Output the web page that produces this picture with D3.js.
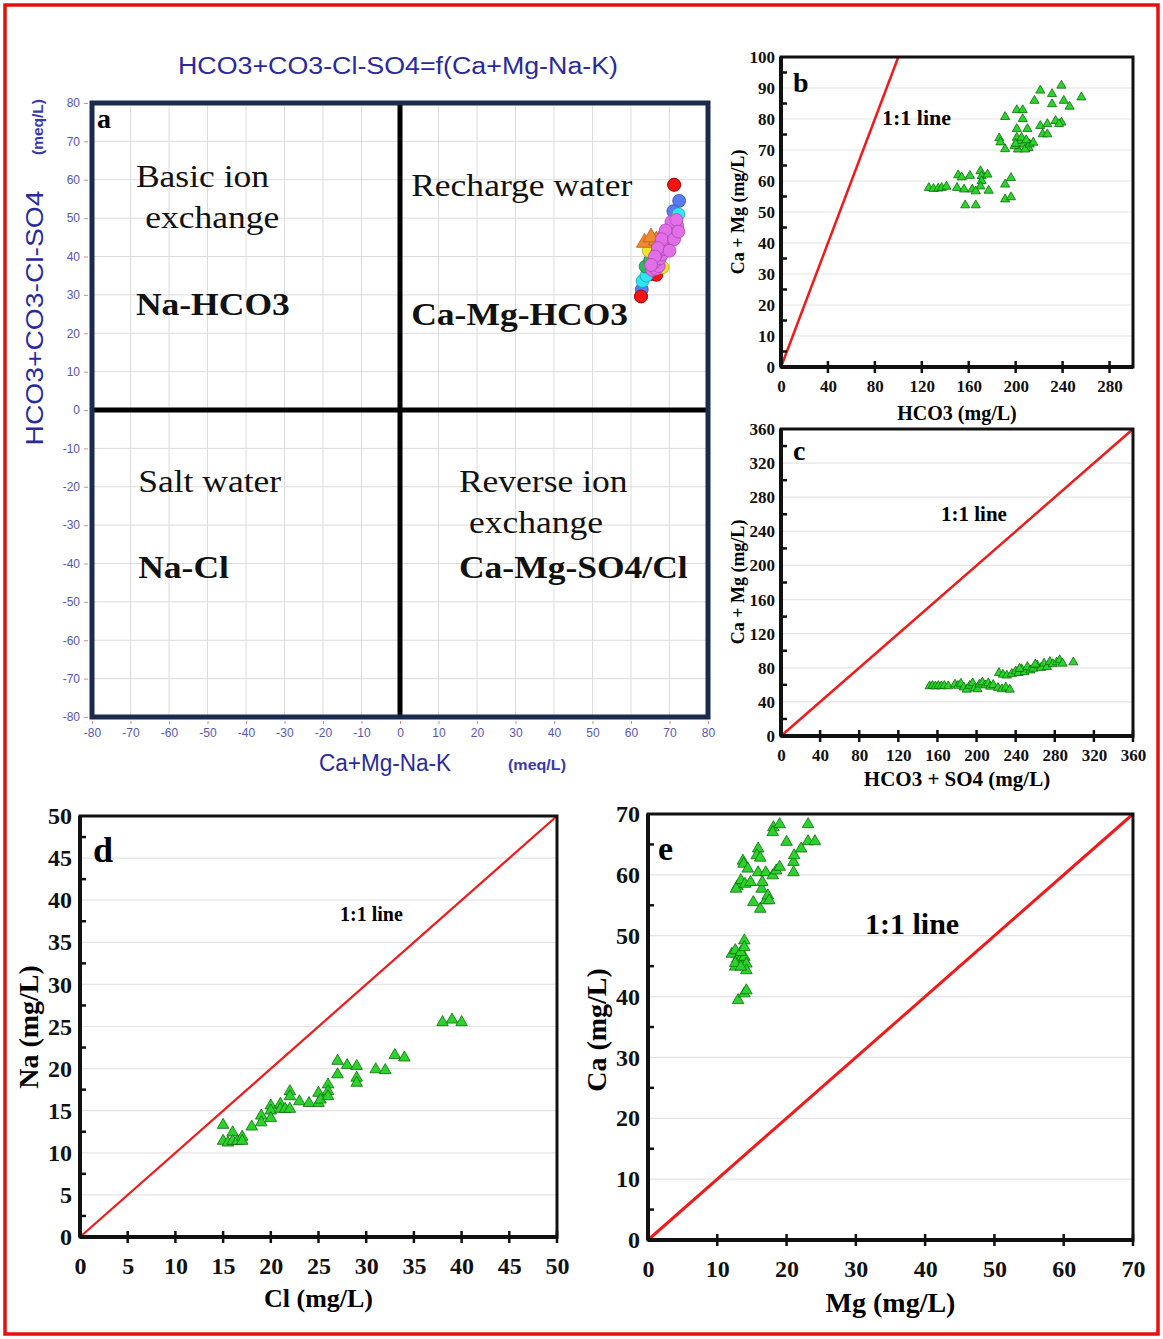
<!DOCTYPE html>
<html>
<head>
<meta charset="utf-8">
<script src="https://cdn.jsdelivr.net/npm/d3@7"></script>
<style>
body { margin: 0; background: #fff; }
</style>
</head>
<body>
<svg id="fig" width="1163" height="1339"></svg>
<script>
// ---- panel a : ion exchange diagram (meq/L) ----
var aTicks = [-80, -70, -60, -50, -40, -30, -20, -10, 0, 10, 20, 30, 40, 50, 60, 70, 80];
var aRed = [[71.2, 58.7], [62.6, 29.6], [65.2, 35.4], [66.6, 35.2]];
var aBlue = [[72.5, 54.5], [71.0, 51.8], [62.8, 31.4], [66.0, 38.0]];
var aCyan = [[72.3, 51.0], [63.0, 33.6], [64.0, 35.0]];
var aGreen = [[63.8, 37.4], [65.0, 39.0], [70.0, 46.0], [68.2, 43.0], [71.2, 48.2]];
var aYellow = [[64.6, 41.5], [71.6, 49.5], [68.2, 37.2], [66.0, 44.0]];
var aOrange = [[63.5, 43.6], [66.6, 44.2], [65.2, 45.0]];
var aViolet = [[65.5, 36.5], [66.5, 36.8], [67.2, 37.5], [66.0, 38.5], [67.5, 39.5], [68.0, 40.5],
  [66.8, 41.0], [68.5, 42.0], [69.0, 43.0], [67.8, 43.5], [69.5, 44.2], [70.2, 45.0], [68.5, 45.5],
  [70.5, 46.5], [71.5, 46.0], [69.8, 47.0], [71.0, 47.8], [72.0, 48.0], [70.5, 49.0], [71.8, 49.5],
  [69.0, 46.8], [68.0, 44.5], [67.0, 42.2], [66.2, 40.0], [65.2, 37.8], [71.2, 44.5], [72.3, 46.5], [70.0, 41.5]];

// ---- panel b : Ca+Mg vs HCO3 (mg/L) ----
var bXTicks = [0, 40, 80, 120, 160, 200, 240, 280];
var bYTicks = [0, 10, 20, 30, 40, 50, 60, 70, 80, 90, 100];
var bHco3 = [126, 130, 134, 137, 141, 151, 154, 161, 150, 156, 163, 170, 171, 171, 170, 176, 177, 166,
  157, 166, 196, 191, 191, 196, 191, 201, 206, 206, 186, 187, 191, 201, 210, 201, 204, 207, 211, 202,
  208, 212, 215, 199, 205, 200, 209, 216, 221, 231, 239, 231, 241, 246, 256, 221, 227, 223, 227, 234, 239, 237];
var bCaMg = [57.8, 57.5, 57.6, 57.8, 58.2, 61.9, 61.2, 61.7, 57.8, 57.3, 57.3, 63.2, 61.6, 60.0, 58.3, 62.1, 56.9, 56.7,
  52.2, 52.2, 61.0, 58.9, 54.1, 54.8, 80.7, 82.9, 82.9, 80.0, 73.8, 72.5, 70.3, 76.8, 76.8, 74.0, 72.9, 71.8, 70.7, 70.2,
  70.2, 71.8, 72.4, 71.3, 74.0, 72.0, 73.2, 85.9, 89.2, 88.1, 90.8, 84.8, 85.9, 84.0, 87.0, 77.8, 78.4, 75.1, 75.1, 79.4, 78.9, 78.4];

// ---- panel c : Ca+Mg vs HCO3+SO4 (mg/L) ----
var cTicks = [0, 40, 80, 120, 160, 200, 240, 280, 320, 360];
var cHco3So4 = [152, 155, 158, 161, 164, 167, 171, 178, 181, 184, 187, 190, 193, 196, 198, 201, 203, 206, 209, 212,
  214, 217, 222, 226, 230, 234, 223, 227, 231, 236, 240, 243, 246, 249, 252, 255, 258, 262, 266, 269, 272, 275,
  278, 282, 285, 288, 299, 244, 260];
var cCaMg = [58.5, 58.8, 58.3, 58.8, 58.5, 58.9, 58.5, 60.5, 59.0, 61.5, 57.0, 54.5, 59.0, 62.0, 56.0, 55.0, 60.5, 63.0,
  59.5, 62.0, 58.0, 60.0, 56.5, 55.0, 57.0, 54.5, 74.0, 72.0, 71.0, 73.0, 76.0, 74.0, 78.5, 75.0, 81.0, 77.0, 79.0,
  83.0, 80.0, 85.0, 81.0, 87.0, 84.5, 86.5, 89.0, 85.0, 86.5, 79.0, 84.0];

// ---- panel d : Na vs Cl (mg/L) ----
var dTicks = [0, 5, 10, 15, 20, 25, 30, 35, 40, 45, 50];
var dCl = [15, 15, 15.5, 16, 16, 16.5, 17, 17, 18, 19, 19, 20, 20, 20, 21, 21, 21.5, 22, 22, 22, 23, 24, 25, 25,
  25.2, 26, 26, 26, 27, 27, 28, 29, 29, 29, 31, 32, 33, 34, 38, 39, 40];
var dNa = [13.3, 11.4, 11.2, 12.4, 11.4, 11.4, 11.9, 11.4, 13.1, 14.4, 13.6, 15.6, 15.0, 14.1, 15.8, 15.2, 15.2,
  17.3, 16.7, 15.2, 16.1, 15.9, 15.9, 17.1, 16.3, 18.1, 17.3, 16.7, 20.9, 19.3, 20.4, 20.3, 18.9, 18.3, 19.9,
  19.8, 21.6, 21.3, 25.5, 25.8, 25.5];

// ---- panel e : Ca vs Mg (mg/L) ----
var eTicks = [0, 10, 20, 30, 40, 50, 60, 70];
var eMg = [12.9, 13.4, 12.7, 13.7, 13.8, 14.4, 14.0, 14.8, 15.9, 15.7, 16.2, 15.2, 16.2, 15.9, 17.0, 16.4, 17.0,
  17.3, 16.5, 17.5, 18.0, 18.5, 19.0, 18.1, 19.0, 18.0, 20.0, 21.0, 21.0, 21.1, 22.1, 23.1, 23.1, 24.1,
  12.1, 12.6, 12.9, 13.4, 13.9, 14.2, 14.2, 13.4, 12.6, 13.9, 13.9, 12.6, 13.4, 13.0, 13.9, 14.2];
var eCa = [58.1, 59.1, 57.7, 62.3, 61.8, 61.0, 58.5, 58.8, 64.3, 63.2, 62.8, 55.5, 54.4, 60.4, 60.4, 57.7, 55.8,
  56.6, 58.8, 55.8, 59.9, 60.7, 61.3, 67.8, 68.3, 67.0, 65.4, 60.4, 62.1, 63.2, 64.3, 68.3, 65.5, 65.5,
  47.0, 47.6, 46.2, 46.2, 46.5, 45.4, 44.3, 47.3, 44.9, 49.2, 48.1, 45.5, 44.9, 39.4, 40.5, 41.0];

var svg = d3.select("#fig");
var serif = "'Liberation Serif', 'Times New Roman', serif";
var sans = "'Liberation Sans', Arial, sans-serif";

svg.append("rect")
  .attr("x", 5).attr("y", 5).attr("width", 1153).attr("height", 1329)
  .attr("fill", "none").attr("stroke", "#e3100f").attr("stroke-width", 3.5);

// ================= panel a =================
var ax = d3.scaleLinear().domain([-80, 80]).range([92, 708]);
var ay = d3.scaleLinear().domain([-80, 80]).range([717, 103]);
var ga = svg.append("g");

ga.selectAll(".gv").data(aTicks).enter().append("line")
  .attr("x1", function (d) { return ax(d); }).attr("x2", function (d) { return ax(d); })
  .attr("y1", ay(80)).attr("y2", ay(-80))
  .attr("stroke", "#dcdcdc").attr("stroke-width", 1);
ga.selectAll(".gh").data(aTicks).enter().append("line")
  .attr("y1", function (d) { return ay(d); }).attr("y2", function (d) { return ay(d); })
  .attr("x1", ax(-80)).attr("x2", ax(80))
  .attr("stroke", "#dcdcdc").attr("stroke-width", 1);

ga.append("line").attr("x1", ax(0)).attr("x2", ax(0)).attr("y1", ay(80)).attr("y2", ay(-80))
  .attr("stroke", "#000").attr("stroke-width", 5);
ga.append("line").attr("x1", ax(-80)).attr("x2", ax(80)).attr("y1", ay(0)).attr("y2", ay(0))
  .attr("stroke", "#000").attr("stroke-width", 5);

ga.append("rect")
  .attr("x", ax(-80)).attr("y", ay(80))
  .attr("width", ax(80) - ax(-80)).attr("height", ay(-80) - ay(80))
  .attr("fill", "none").attr("stroke", "#1b2b4d").attr("stroke-width", 5);

var aLeft = ga.append("g").attr("transform", "translate(" + (ax(-80) - 4) + ",0)")
  .call(d3.axisLeft(ay).tickValues(aTicks).tickSize(4).tickPadding(4).tickFormat(function (d) { return String(d); }));
var aBottom = ga.append("g").attr("transform", "translate(0," + (ay(-80) + 4) + ")")
  .call(d3.axisBottom(ax).tickValues(aTicks).tickSize(3).tickPadding(4).tickFormat(function (d) { return String(d); }));
[aLeft, aBottom].forEach(function (s) {
  s.select(".domain").remove();
  s.selectAll("line").attr("stroke", "#d98a8a");
  s.selectAll("text").attr("fill", "#5656b0").style("font-family", sans).style("font-size", "12px");
});

// quadrant labels
var qLab = [
  ["Basic ion", -68.6, 58.1, "normal"], ["exchange", -66.2, 47.4, "normal"], ["Na-HCO3", -68.6, 24.8, "bold"],
  ["Recharge water", 2.9, 55.8, "normal"], ["Ca-Mg-HCO3", 2.9, 22.1, "bold"],
  ["Salt water", -68.0, -21.4, "normal"], ["Na-Cl", -68.0, -43.8, "bold"],
  ["Reverse ion", 15.3, -21.4, "normal"], ["exchange", 17.9, -32.0, "normal"], ["Ca-Mg-SO4/Cl", 15.3, -43.8, "bold"]
];
ga.selectAll(".ql").data(qLab).enter().append("text")
  .attr("transform", function (d) { return "translate(" + ax(d[1]) + "," + ay(d[2]) + ") scale(1.11,1)"; })
  .style("font-family", serif).style("font-size", "32px")
  .style("font-weight", function (d) { return d[3]; })
  .attr("fill", "#111")
  .text(function (d) { return d[0]; });

ga.append("text").attr("x", 97).attr("y", 128)
  .style("font-family", serif).style("font-size", "28px").style("font-weight", "bold").text("a");

// scatter of samples
var aSeries = [
  { pts: aRed, fill: "#f01414", stroke: "#a00000", shape: "circle" },
  { pts: aBlue, fill: "#5b7cf0", stroke: "#2f48b0", shape: "circle" },
  { pts: aCyan, fill: "#2ee6f5", stroke: "#1aa0b0", shape: "circle" },
  { pts: aGreen, fill: "#30b860", stroke: "#1c7a3c", shape: "circle" },
  { pts: aYellow, fill: "#f4e428", stroke: "#b8a818", shape: "circle" },
  { pts: aOrange, fill: "#f08a30", stroke: "#b85a10", shape: "triangle" },
  { pts: aViolet, fill: "#e26ee8", stroke: "#a848b0", shape: "circle" }
];
aSeries.forEach(function (s) {
  var sym = d3.symbol().type(s.shape === "circle" ? d3.symbolCircle : d3.symbolTriangle).size(s.shape === "circle" ? 130 : 110);
  ga.append("g").selectAll("path").data(s.pts).enter().append("path")
    .attr("d", sym)
    .attr("transform", function (d) { return "translate(" + ax(d[0]) + "," + ay(d[1]) + ")"; })
    .attr("fill", s.fill).attr("stroke", s.stroke).attr("stroke-width", 0.8);
});
// keep the two extreme red samples on top
ga.append("g").selectAll("circle").data([aRed[0], aRed[1]]).enter().append("path")
  .attr("d", d3.symbol().type(d3.symbolCircle).size(130))
  .attr("transform", function (d) { return "translate(" + ax(d[0]) + "," + ay(d[1]) + ")"; })
  .attr("fill", "#f01414").attr("stroke", "#a00000").attr("stroke-width", 0.8);

// titles
svg.append("text").attr("x", 398).attr("y", 74).attr("text-anchor", "middle")
  .attr("textLength", 440).attr("lengthAdjust", "spacingAndGlyphs")
  .style("font-family", sans).style("font-size", "23px").attr("fill", "#2a2a9c")
  .text("HCO3+CO3-Cl-SO4=f(Ca+Mg-Na-K)");
svg.append("text").attr("transform", "translate(43,318) rotate(-90)").attr("text-anchor", "middle")
  .attr("textLength", 255).attr("lengthAdjust", "spacingAndGlyphs")
  .style("font-family", sans).style("font-size", "24px").attr("fill", "#2a2a9c")
  .text("HCO3+CO3-Cl-SO4");
svg.append("text").attr("transform", "translate(43,127) rotate(-90)").attr("text-anchor", "middle")
  .attr("textLength", 56).attr("lengthAdjust", "spacingAndGlyphs")
  .style("font-family", sans).style("font-size", "14px").style("font-weight", "bold").attr("fill", "#3a3aa8")
  .text("(meq/L)");
svg.append("text").attr("x", 385).attr("y", 771).attr("text-anchor", "middle")
  .attr("textLength", 132).attr("lengthAdjust", "spacingAndGlyphs")
  .style("font-family", sans).style("font-size", "23px").attr("fill", "#2a2a9c")
  .text("Ca+Mg-Na-K");
svg.append("text").attr("x", 537).attr("y", 770).attr("text-anchor", "middle")
  .attr("textLength", 58).attr("lengthAdjust", "spacingAndGlyphs")
  .style("font-family", sans).style("font-size", "14px").style("font-weight", "bold").attr("fill", "#3a3aa8")
  .text("(meq/L)");

// ================= panels b-e =================
function xyPanel(o) {
  var x = d3.scaleLinear().domain(o.xDom).range([o.left, o.right]);
  var y = d3.scaleLinear().domain(o.yDom).range([o.bottom, o.top]);
  var g = svg.append("g");

  g.selectAll(".grid").data(o.yTicks.slice(1)).enter().append("line")
    .attr("x1", x(o.xDom[0])).attr("x2", x(o.xDom[1]))
    .attr("y1", function (d) { return y(d); }).attr("y2", function (d) { return y(d); })
    .attr("stroke", "#e4e4e4").attr("stroke-width", 1.2);

  var lim = Math.min(o.xDom[1], o.yDom[1]);
  g.append("line")
    .attr("x1", x(0)).attr("y1", y(0)).attr("x2", x(lim)).attr("y2", y(lim))
    .attr("stroke", "#f01a1a").attr("stroke-width", o.lineW);

  var sym = d3.symbol().type(d3.symbolTriangle).size(o.size);
  g.selectAll(".pt").data(o.xs).enter().append("path")
    .attr("d", sym)
    .attr("transform", function (d, i) { return "translate(" + x(d) + "," + y(o.ys[i]) + ")"; })
    .attr("fill", "#2ad42a").attr("stroke", "#0d6a0d").attr("stroke-width", 0.8);

  g.append("rect")
    .attr("x", o.left).attr("y", o.top).attr("width", o.right - o.left).attr("height", o.bottom - o.top)
    .attr("fill", "none").attr("stroke", "#111").attr("stroke-width", 3);
  g.append("line").attr("x1", o.left).attr("x2", o.right).attr("y1", o.bottom).attr("y2", o.bottom)
    .attr("stroke", "#111").attr("stroke-width", 4);
  g.append("line").attr("x1", o.left).attr("x2", o.left).attr("y1", o.top).attr("y2", o.bottom)
    .attr("stroke", "#111").attr("stroke-width", 4);

  // minor inward ticks on y
  var step = o.yTicks[1] - o.yTicks[0];
  var minor = o.yTicks.slice(1).map(function (d) { return d - step / 2; });
  g.selectAll(".mt").data(minor).enter().append("line")
    .attr("x1", o.left).attr("x2", o.left + 6)
    .attr("y1", function (d) { return y(d); }).attr("y2", function (d) { return y(d); })
    .attr("stroke", "#111").attr("stroke-width", 2.5);
  // x ticks
  g.selectAll(".xt").data(o.xTicks.slice(1)).enter().append("line")
    .attr("x1", function (d) { return x(d); }).attr("x2", function (d) { return x(d); })
    .attr("y1", o.bottom - 6).attr("y2", o.bottom + 6)
    .attr("stroke", "#111").attr("stroke-width", 2.5);

  var yl = g.append("g").attr("transform", "translate(" + o.left + ",0)")
    .call(d3.axisLeft(y).tickValues(o.yTicks).tickSize(0).tickPadding(o.pad));
  var xl = g.append("g").attr("transform", "translate(0," + o.bottom + ")")
    .call(d3.axisBottom(x).tickValues(o.xTicks).tickSize(0).tickPadding(o.padX));
  [yl, xl].forEach(function (s) {
    s.select(".domain").remove();
    s.selectAll("text").attr("fill", "#111").style("font-family", serif)
      .style("font-size", o.tickFont + "px").style("font-weight", "bold");
  });

  g.append("text").attr("x", o.letter[0]).attr("y", o.letter[1])
    .style("font-family", serif).style("font-size", o.letter[2] + "px").style("font-weight", "bold")
    .text(o.name);
  g.append("text").attr("x", o.note[0]).attr("y", o.note[1])
    .style("font-family", serif).style("font-size", o.note[2] + "px").style("font-weight", "bold")
    .text("1:1 line");
  g.append("text").attr("x", (o.left + o.right) / 2).attr("y", o.xTitleY).attr("text-anchor", "middle")
    .style("font-family", serif).style("font-size", o.titleFont + "px").style("font-weight", "bold")
    .text(o.xTitle);
  g.append("text").attr("transform", "translate(" + o.yTitleX + "," + o.yTitleCy + ") rotate(-90)")
    .attr("text-anchor", "middle")
    .style("font-family", serif).style("font-size", o.yTitleFont + "px").style("font-weight", "bold")
    .text(o.yTitle);
}

xyPanel({
  name: "b", xs: bHco3, ys: bCaMg, xDom: [0, 300], yDom: [0, 100], xTicks: bXTicks, yTicks: bYTicks,
  left: 781, right: 1133, top: 57, bottom: 367, size: 36, lineW: 2.5, pad: 6, padX: 13, tickFont: 17,
  letter: [793, 92, 28], note: [882, 125, 22],
  xTitle: "HCO3 (mg/L)", xTitleY: 420, titleFont: 20,
  yTitle: "Ca + Mg (mg/L)", yTitleX: 744, yTitleCy: 212, yTitleFont: 18
});
xyPanel({
  name: "c", xs: cHco3So4, ys: cCaMg, xDom: [0, 360], yDom: [0, 360], xTicks: cTicks, yTicks: cTicks,
  left: 781, right: 1133, top: 429, bottom: 736, size: 36, lineW: 2.5, pad: 6, padX: 13, tickFont: 17,
  letter: [793, 460, 28], note: [941, 521, 21],
  xTitle: "HCO3 + SO4 (mg/L)", xTitleY: 786, titleFont: 21,
  yTitle: "Ca + Mg (mg/L)", yTitleX: 744, yTitleCy: 582, yTitleFont: 18
});
xyPanel({
  name: "d", xs: dCl, ys: dNa, xDom: [0, 50], yDom: [0, 50], xTicks: dTicks, yTicks: dTicks,
  left: 80, right: 557, top: 816, bottom: 1237, size: 58, lineW: 2.2, pad: 8, padX: 20, tickFont: 24,
  letter: [93, 862, 36], note: [340, 921, 20],
  xTitle: "Cl (mg/L)", xTitleY: 1307, titleFont: 26,
  yTitle: "Na (mg/L)", yTitleX: 38, yTitleCy: 1027, yTitleFont: 28
});
xyPanel({
  name: "e", xs: eMg, ys: eCa, xDom: [0, 70], yDom: [0, 70], xTicks: eTicks, yTicks: eTicks,
  left: 648, right: 1133, top: 814, bottom: 1240, size: 58, lineW: 3, pad: 8, padX: 20, tickFont: 24,
  letter: [658, 860, 34], note: [865, 934, 30],
  xTitle: "Mg (mg/L)", xTitleY: 1312, titleFont: 28,
  yTitle: "Ca (mg/L)", yTitleX: 606, yTitleCy: 1030, yTitleFont: 28
});
</script>
</body>
</html>
